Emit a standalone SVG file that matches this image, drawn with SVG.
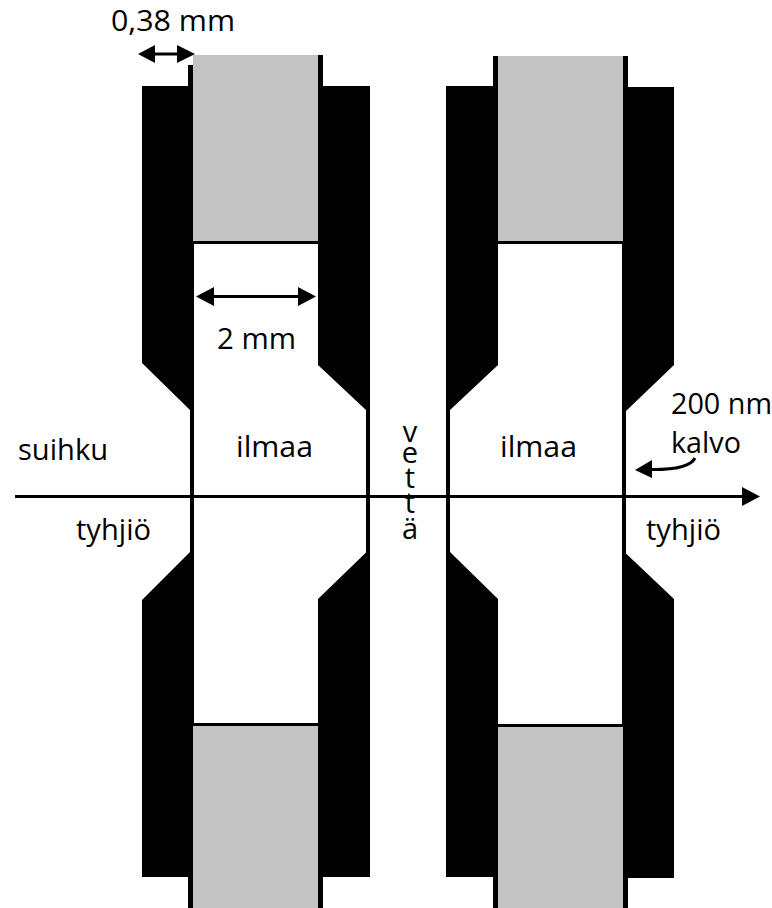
<svg xmlns="http://www.w3.org/2000/svg" width="772" height="908" viewBox="0 0 772 908">
<style>
.k{fill:#000}
.g{fill:#c3c3c3}
.t{font-family:"Open Sans","Noto Sans","Liberation Sans",sans-serif;font-size:29px;fill:#000}
.l{stroke:#000;stroke-width:3;fill:none}
</style>
<rect width="772" height="908" fill="#fff"/>
<g id="left-cell">
<path class="k" fill-rule="evenodd" d="M188 65H193V55H323V86H370V877H323V908H188V877H142V600L190 552V410L142 363V86H188ZM194 244V723H318V599L366 552.500V410L318 365V244Z"/>
<rect class="g" x="193" y="55" width="125" height="186"/>
<rect class="g" x="193" y="726" width="125" height="182"/>
</g>
<g id="right-cell">
<path class="k" fill-rule="evenodd" d="M493 56H628V87H674V365L626 411V553.500L674 599V878H628V908H493V877H446V86H493ZM450 410V552L498 599V724H622V244H498V365Z"/>
<rect class="g" x="498" y="56" width="125" height="185"/>
<rect class="g" x="498" y="727" width="125" height="181"/>
</g>
<g id="connectors">
<path class="l" d="M15 496.500H745"/>
<path class="k" d="M742 487L760 496.500L742 506Z"/>
<path class="l" d="M150 54H182"/>
<path class="k" d="M138 54L155 45V63Z"/>
<path class="k" d="M195 54L177 45V63Z"/>
<path class="l" d="M208 296.500H304"/>
<path class="k" d="M196 296.500L214 287V306Z"/>
<path class="k" d="M316 296.500L298 287V306Z"/>
<path class="l" d="M648 469.500C670 470 690 468 695 458"/>
<path class="k" d="M635 470L652 460V478Z"/>
</g>
<g id="labels">
<text class="t" x="111" y="31" textLength="124" lengthAdjust="spacingAndGlyphs">0,38 mm</text>
<text class="t" x="217" y="349" textLength="79" lengthAdjust="spacingAndGlyphs">2 mm</text>
<text class="t" x="18" y="460" textLength="90" lengthAdjust="spacingAndGlyphs">suihku</text>
<text class="t" x="236" y="456.500" textLength="77" lengthAdjust="spacingAndGlyphs">ilmaa</text>
<text class="t" x="500" y="456.500" textLength="77" lengthAdjust="spacingAndGlyphs">ilmaa</text>
<text class="t" x="76" y="540" textLength="75" lengthAdjust="spacingAndGlyphs">tyhjiö</text>
<text class="t" x="646" y="539.500" textLength="75" lengthAdjust="spacingAndGlyphs">tyhjiö</text>
<text class="t" x="671" y="414" textLength="101" lengthAdjust="spacingAndGlyphs">200 nm</text>
<text class="t" x="671" y="453" textLength="70" lengthAdjust="spacingAndGlyphs">kalvo</text>
<text class="t" text-anchor="middle"><tspan x="410" y="441.500">v</tspan><tspan x="410" y="463">e</tspan><tspan x="410" y="488">t</tspan><tspan x="410" y="512.500">t</tspan><tspan x="410" y="539">ä</tspan></text>
</g>
</svg>
